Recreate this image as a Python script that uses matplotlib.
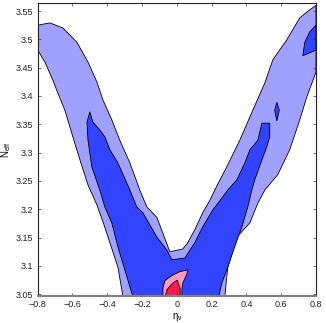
import matplotlib
matplotlib.use("Agg")
import matplotlib.pyplot as plt

plt.rcParams['font.family'] = ['Liberation Sans', 'DejaVu Sans']

# contour boundaries (eta_nu, N_eff)
outer_x = [-0.8, -0.730, -0.655, -0.575, -0.511, -0.460, -0.425, -0.374, -0.328, -0.270,
           -0.213, -0.172, -0.115, -0.040, 0.034, 0.063, 0.103, 0.149, 0.190, 0.218,
           0.287, 0.362, 0.437, 0.506, 0.552, 0.632, 0.707, 0.764, 0.8, 0.8,
           0.747, 0.707, 0.649, 0.580, 0.506, 0.466, 0.420, 0.345, 0.293, 0.276,
           -0.310, -0.339, -0.385, -0.425, -0.460, -0.511, -0.557, -0.598, -0.644, -0.684,
           -0.713, -0.759, -0.8]
outer_y = [3.525, 3.529, 3.520, 3.495, 3.460, 3.425, 3.393, 3.358, 3.322, 3.282,
           3.234, 3.204, 3.186, 3.125, 3.130, 3.141, 3.164, 3.194, 3.216, 3.234,
           3.275, 3.322, 3.375, 3.423, 3.464, 3.499, 3.538, 3.552, 3.560, 3.442,
           3.398, 3.358, 3.305, 3.261, 3.234, 3.211, 3.176, 3.151, 3.098, 3.0465,
           3.0465, 3.098, 3.141, 3.178, 3.208, 3.243, 3.287, 3.328, 3.375, 3.405,
           3.428, 3.460, 3.481]

mid_x = [-0.500, -0.483, -0.443, -0.414, -0.385, -0.339, -0.287, -0.270, -0.230, -0.195,
         -0.115, -0.057, -0.029, 0.046, 0.103, 0.149, 0.207, 0.264, 0.293, 0.345,
         0.391, 0.420, 0.466, 0.489, 0.534, 0.534, 0.517, 0.489, 0.448, 0.431,
         0.408, 0.374, 0.333, 0.293, 0.259, 0.241, -0.253, -0.259, -0.299, -0.339,
         -0.374, -0.414, -0.443, -0.489, -0.511, -0.517]
mid_y = [3.372, 3.354, 3.340, 3.328, 3.305, 3.282, 3.246, 3.234, 3.204, 3.194,
         3.151, 3.128, 3.111, 3.114, 3.141, 3.169, 3.199, 3.222, 3.234, 3.252,
         3.282, 3.305, 3.322, 3.352, 3.352, 3.328, 3.310, 3.287, 3.252, 3.234,
         3.204, 3.169, 3.134, 3.098, 3.070, 3.0465, 3.0465, 3.052, 3.093, 3.134,
         3.176, 3.204, 3.234, 3.275, 3.322, 3.354]

island_x = [0.575, 0.589, 0.575, 0.563]
island_y = [3.389, 3.375, 3.356, 3.375]

corner_x = [0.8, 0.764, 0.736, 0.724, 0.8]
corner_y = [3.525, 3.513, 3.495, 3.471, 3.481]

pink_x = [-0.080, -0.080, -0.069, -0.029, 0.017, 0.063, 0.057, 0.034, 0.029, 0.029]
pink_y = [3.0465, 3.061, 3.074, 3.083, 3.090, 3.093, 3.085, 3.070, 3.058, 3.0465]

red_x = [-0.066, -0.057, -0.029, 0.002, 0.019, 0.019]
red_y = [3.0465, 3.058, 3.068, 3.075, 3.061, 3.0465]

xticks = [-0.8, -0.6, -0.4, -0.2, 0, 0.2, 0.4, 0.6, 0.8]
xlabels = ['\u22120.8', '\u22120.6', '\u22120.4', '\u22120.2', '0', '0.2', '0.4', '0.6', '0.8']
yticks = [3.05, 3.1, 3.15, 3.2, 3.25, 3.3, 3.35, 3.4, 3.45, 3.5, 3.55]
ylabels = ['3.05', '3.1', '3.15', '3.2', '3.25', '3.3', '3.35', '3.4', '3.45', '3.5', '3.55']

light = '#a0a0fe'
blue = '#3344ff'
pink = '#ff99c4'
red = '#ff1a50'

fig = plt.figure(figsize=(3.26, 3.23), dpi=100)
ax = fig.add_axes([0.1157, 0.0827, 0.8535, 0.9071])

ax.fill(outer_x, outer_y, facecolor=light, edgecolor='k', linewidth=0.6)
ax.fill(mid_x, mid_y, facecolor=blue, edgecolor='k', linewidth=0.6)
ax.fill(island_x, island_y, facecolor=blue, edgecolor='k', linewidth=0.6)
ax.fill(corner_x, corner_y, facecolor=blue, edgecolor='k', linewidth=0.6)
ax.fill(pink_x, pink_y, facecolor=pink, edgecolor='k', linewidth=0.6)
ax.fill(red_x, red_y, facecolor=red, edgecolor='k', linewidth=0.6)

ax.set_xlim(-0.8, 0.8)
ax.set_ylim(3.0465, 3.5636)
ax.set_xticks(xticks)
ax.set_xticklabels(xlabels)
ax.set_yticks(yticks)
ax.set_yticklabels(ylabels)
ax.tick_params(direction='in', length=2.5, width=0.5, labelsize=6.5, pad=3,
               top=True, right=True, colors='#333333', labelcolor='#222222')
for s in ax.spines.values():
    s.set_linewidth(0.8)
    s.set_color('#222222')
ax.spines['bottom'].set_color('#808080')
ax.spines['bottom'].set_linewidth(1.5)

ax.set_xlabel('$\\mathregular{η_ν}$', fontsize=7, labelpad=1)
ax.set_ylabel('$\\mathregular{N_{eff}}$', fontsize=7, labelpad=2)

fig.savefig('out.png', dpi=100)
